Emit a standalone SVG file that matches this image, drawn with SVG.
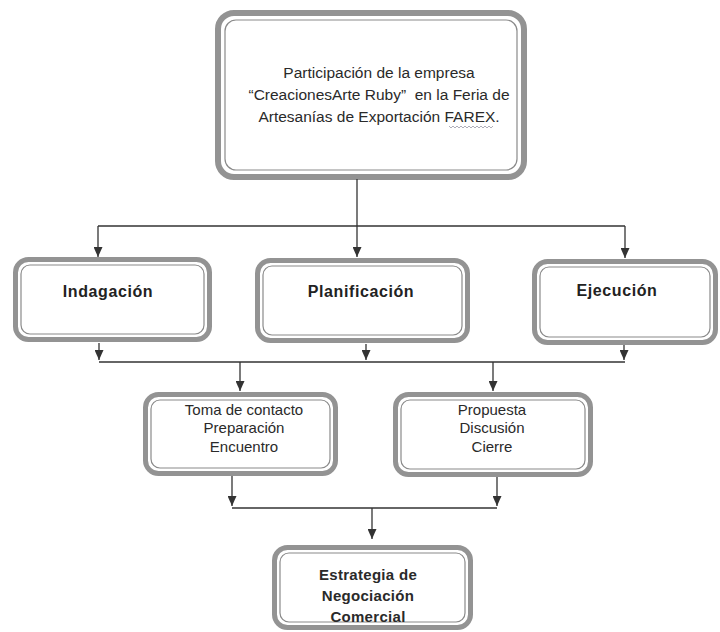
<svg xmlns="http://www.w3.org/2000/svg" width="720" height="632" viewBox="0 0 720 632">
<style>
  .outer { fill: #ffffff; stroke: #939393; stroke-width: 5; }
  .inner { fill: none; stroke: #8a8a8a; stroke-width: 1.2; }
  .t { font-family: "Liberation Sans", Arial, sans-serif; font-size: 15px; fill: #2a2a2a; text-anchor: middle; }
  .tt { font-family: "Liberation Sans", Arial, sans-serif; font-size: 15.5px; fill: #2a2a2a; text-anchor: middle; }
  .b { font-family: "Liberation Sans", Arial, sans-serif; font-size: 16px; font-weight: bold; fill: #222; text-anchor: middle; letter-spacing: 0.6px; }
  .b2 { font-family: "Liberation Sans", Arial, sans-serif; font-size: 15px; font-weight: bold; fill: #2a2a2a; text-anchor: middle; letter-spacing: 0.3px; }
  .c { fill: none; stroke: #333; stroke-width: 1.3; }
</style>
<defs>
  <marker id="ah" markerUnits="userSpaceOnUse" markerWidth="10" markerHeight="9" viewBox="0 0 10 9" refX="10" refY="4.5" orient="auto">
    <path d="M0,0 L10,4.5 L0,9 z" fill="#333"/>
  </marker>
</defs>
<rect width="720" height="632" fill="#ffffff"/>

<g id="n-top">
  <rect class="outer" x="218" y="13" width="306" height="164" rx="16" style="stroke-width:6"/>
  <rect class="inner" x="225" y="20" width="292" height="150" rx="11"/>
  <text class="tt" x="379" y="78">Participación de la empresa</text>
  <text class="tt" x="379" y="100">“CreacionesArte Ruby”&#160; en la Feria de</text>
  <text class="tt" x="379" y="122">Artesanías de Exportación FAREX.</text>
  <path d="M449,126 l2,2 l2,-2 l2,2 l2,-2 l2,2 l2,-2 l2,2 l2,-2 l2,2 l2,-2 l2,2 l2,-2 l2,2 l2,-2 l2,2 l2,-2 l2,2 l2,-2 l2,2 l2,-2 l2,2 l2,-2" fill="none" stroke="#9a9aa8" stroke-width="0.8"/>
</g>

<g id="n-indagacion">
  <rect class="outer" x="15.5" y="259.5" width="194" height="80" rx="13"/>
  <rect class="inner" x="21" y="265" width="183" height="69" rx="9"/>
  <text class="b" x="108" y="297">Indagación</text>
</g>

<g id="n-planificacion">
  <rect class="outer" x="257.5" y="260.5" width="210" height="80" rx="13"/>
  <rect class="inner" x="263" y="266" width="199" height="69" rx="9"/>
  <text class="b" x="361" y="297">Planificación</text>
</g>

<g id="n-ejecucion">
  <rect class="outer" x="534.5" y="261.5" width="181" height="81" rx="13"/>
  <rect class="inner" x="540" y="267" width="170" height="70" rx="9"/>
  <text class="b" x="617" y="296">Ejecución</text>
</g>

<g id="n-toma">
  <rect class="outer" x="145.5" y="394.5" width="190" height="79" rx="13"/>
  <rect class="inner" x="151" y="400" width="179" height="68" rx="9"/>
  <text class="t" x="244" y="415">Toma de contacto</text>
  <text class="t" x="244" y="433">Preparación</text>
  <text class="t" x="244" y="452">Encuentro</text>
</g>

<g id="n-propuesta">
  <rect class="outer" x="395.5" y="394.5" width="195" height="80" rx="13"/>
  <rect class="inner" x="401" y="400" width="184" height="69" rx="9"/>
  <text class="t" x="492" y="415">Propuesta</text>
  <text class="t" x="492" y="433">Discusión</text>
  <text class="t" x="492" y="452">Cierre</text>
</g>

<g id="n-estrategia">
  <rect class="outer" x="274.5" y="547.5" width="196" height="80" rx="13"/>
  <rect class="inner" x="280" y="553" width="185" height="69" rx="9"/>
  <text class="b2" x="368" y="580">Estrategia de</text>
  <text class="b2" x="368" y="601">Negociación</text>
  <text class="b2" x="368" y="622">Comercial</text>
</g>

<g id="connectors">
  <path class="c" d="M357,179 V226"/>
  <path class="c" d="M98,226 H625"/>
  <path class="c" d="M98,226 V257" marker-end="url(#ah)"/>
  <path class="c" d="M357,226 V257" marker-end="url(#ah)"/>
  <path class="c" d="M625,226 V258" marker-end="url(#ah)"/>

  <path class="c" d="M99,343 V360" marker-end="url(#ah)"/>
  <path class="c" d="M366,344 V360" marker-end="url(#ah)"/>
  <path class="c" d="M624,345 V360" marker-end="url(#ah)"/>
  <path class="c" d="M99,362 H625"/>

  <path class="c" d="M240,362 V391" marker-end="url(#ah)"/>
  <path class="c" d="M493,362 V391" marker-end="url(#ah)"/>

  <path class="c" d="M232,476 V506" marker-end="url(#ah)"/>
  <path class="c" d="M497,477 V506" marker-end="url(#ah)"/>
  <path class="c" d="M232,508 H497"/>
  <path class="c" d="M372,508 V539" marker-end="url(#ah)"/>
</g>
</svg>
